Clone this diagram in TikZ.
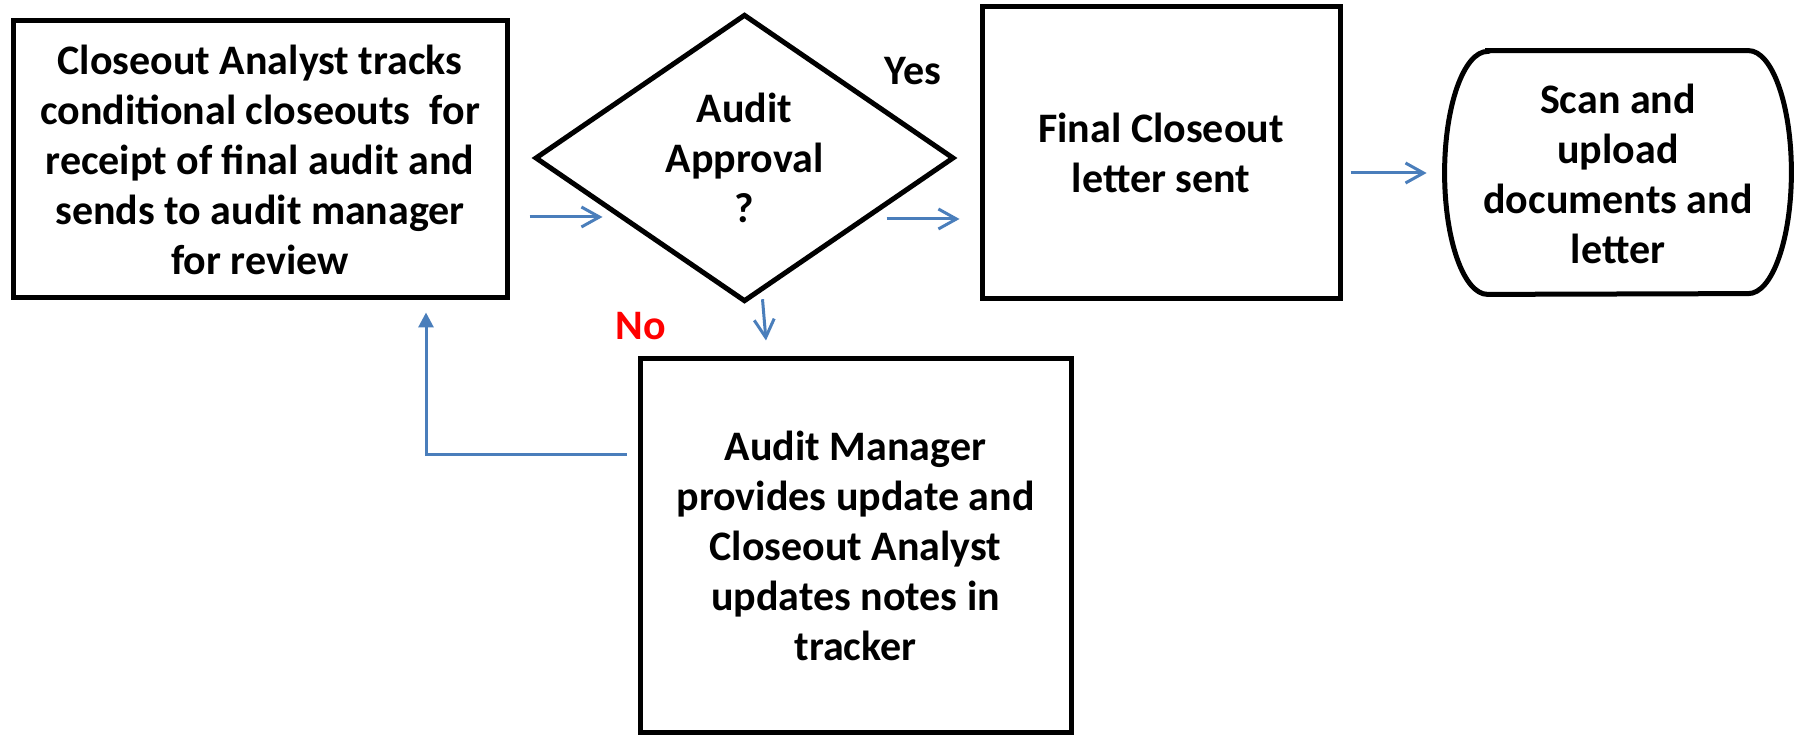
\documentclass[tikz,border=0pt]{standalone}
\usepackage{fontspec}
\setmainfont{Carlito}
\usetikzlibrary{shapes.geometric,arrows.meta,calc}
\definecolor{flowblue}{HTML}{4A7EBB}
\newcommand\txtfont{\fontsize{21pt}{25pt}\selectfont\bfseries}
\begin{document}
\begin{tikzpicture}[x=0.5pt,y=-0.5pt,
  box/.style={draw,line width=2.5pt,align=center,inner sep=0pt,font=\txtfont},
  decision/.style={diamond,draw,line width=2.5pt,align=center,inner sep=0pt,font=\txtfont},
  plain/.style={align=center,inner sep=0pt,font=\txtfont},
  flow/.style={draw=flowblue,line width=1.5pt,-{Straight Barb[length=9pt,width=10pt,line width=1.5pt]}},
  fback/.style={draw=flowblue,line width=1.5pt,-{Triangle[length=7.5pt,width=7.5pt]},fill=none}]
\useasboundingbox (0,0) rectangle (1796,737);
\fill[white] (0,0) rectangle (1796,737);

\node[box,minimum width=247pt,minimum height=138.5pt] (lb) at (260,159.5)
  {Closeout Analyst tracks\\conditional closeouts\ \ for\\receipt of final audit and\\sends to audit manager\\for review};
\node[decision,minimum width=209.5pt,minimum height=137pt] (dia) at (744.5,158)
  {Audit\\Approval\\?};
\node[box,minimum width=179pt,minimum height=146pt] (fb) at (1161,153)
  {Final Closeout\\letter sent};
\node[minimum width=173pt,minimum height=121.5pt,inner sep=0pt] (scan) at (1618,172.5) {};
\draw[line width=2.5pt] ([xshift=21.5pt]scan.north west) -- ([xshift=-21.5pt]scan.north east)
  arc[start angle=90,end angle=-90,x radius=21.5pt,y radius=60.75pt]
  -- ([xshift=21.5pt]scan.south west)
  arc[start angle=270,end angle=90,x radius=21.5pt,y radius=60.75pt] -- cycle;
\node[plain] (scantext) at (1618,174) {Scan and\\upload\\documents and\\letter};
\node[box,minimum width=215.5pt,minimum height=187pt] (am) at (855.5,546)
  {Audit Manager\\provides update and\\Closeout Analyst\\updates notes in\\tracker};

\node[plain] (yes) at (913,71) {Yes};
\node[plain,text=red] (no) at (641,326) {No};

\coordinate (r1) at (0,217);
\coordinate (r2) at (0,219);
\coordinate (r3) at (0,173);
\draw[flow] ([xshift=10pt]lb.east |- r1) -- ([xshift=35pt]dia.west |- r1);
\draw[flow] ([xshift=-35pt]dia.east |- r2) -- ([xshift=-10pt]fb.west |- r2);
\draw[flow] ([xshift=4pt]fb.east |- r3) -- ([xshift=-9pt]scan.west |- r3);
\draw[flow] ([xshift=9pt,yshift=2.5pt]dia.south) -- ([xshift=-44.75pt,yshift=8pt]am.north);
\draw[fback] ([xshift=-5.5pt,yshift=45.5pt]am.west) -| ([xshift=83pt,yshift=-6pt]lb.south);
\end{tikzpicture}
\end{document}
